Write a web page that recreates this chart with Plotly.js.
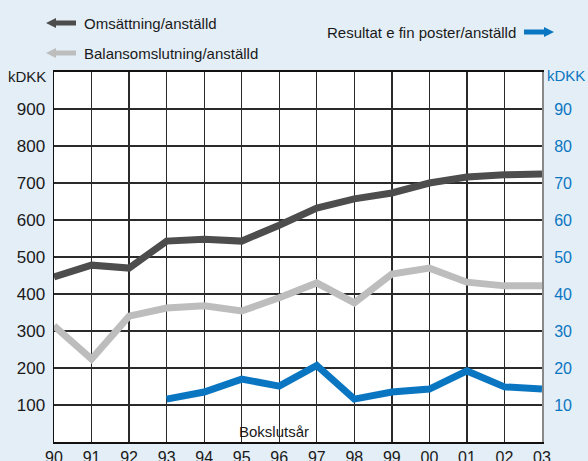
<!DOCTYPE html>
<html>
<head>
<meta charset="utf-8">
<script src="https://cdn.plot.ly/plotly-3.0.1.min.js"></script>
<style>
html,body{margin:0;padding:0;background:#e4eef7;}
#chart{width:588px;height:461px;}
</style>
</head>
<body>
<div id="chart"></div>
<script>
// ---- data ----
var years = [1990,1991,1992,1993,1994,1995,1996,1997,1998,1999,2000,2001,2002,2003];
var yearLabels = ["90","91","92","93","94","95","96","97","98","99","00","01","02","03"];
var omsattning = [446,478,470,543,548,543,586,632,657,673,700,716,722,724];
var balans = [314,224,340,362,368,354,390,430,376,454,470,432,422,422];
var resultatYears = [1993,1994,1995,1996,1997,1998,1999,2000,2001,2002,2003];
var resultat = [11.6,13.5,17.0,15.1,20.7,11.6,13.5,14.3,19.2,14.9,14.3];
var leftTicks = [100,200,300,400,500,600,700,800,900];
var rightTicks = [10,20,30,40,50,60,70,80,90];
var names = ["Omsättning/anställd","Balansomslutning/anställd","Resultat e fin poster/anställd"];

// ---- layout helpers (pixel -> paper) ----
var L=54, R=542, T=72, B=442;
function px(X){return (X-L)/(R-L);}
function py(Y){return (B-Y)/(B-T);}
function arrowPath(tipX, tailX, y){
  var dir = tailX>tipX ? 1 : -1;
  var baseX = tipX + dir*10;
  var pts = [[tipX,y],[baseX,y-5],[baseX,y-2.5],[tailX,y-2.5],[tailX,y+2.5],[baseX,y+2.5],[baseX,y+5]];
  return 'M' + pts.map(function(p){return px(p[0])+','+py(p[1]);}).join(' L') + ' Z';
}

var blue = '#0a76c1';
var font = 'Liberation Sans, Arial, sans-serif';

var traces = [
  {x: years, y: omsattning, type:'scatter', mode:'lines', name:names[0],
   line:{color:'#4d4d4d', width:7}},
  {x: years, y: balans, type:'scatter', mode:'lines', name:names[1],
   line:{color:'#bdbdbd', width:7}},
  {x: resultatYears, y: resultat, type:'scatter', mode:'lines', name:names[2], yaxis:'y2',
   line:{color:blue, width:7}}
];

var layout = {
  width:588, height:461,
  margin:{l:L, r:588-R, t:T, b:461-B},
  paper_bgcolor:'#e4eef7',
  plot_bgcolor:'#ffffff',
  showlegend:false,
  font:{family:font, color:'#1a1a1a'},
  xaxis:{
    range:[1990,2003], tickvals:years, ticktext:yearLabels,
    showgrid:true, gridcolor:'#2a2a2a', gridwidth:1.3,
    zeroline:false, showline:true, linecolor:'#111', linewidth:2, mirror:true,
    ticks:'', tickfont:{size:16, color:'#1a1a1a', family:font}, fixedrange:true
  },
  yaxis:{
    range:[0,1000], tickvals:leftTicks,
    showgrid:true, gridcolor:'#2a2a2a', gridwidth:1.3,
    zeroline:false, showline:true, linecolor:'#111', linewidth:1.5,
    ticks:'', ticklabelstandoff:4, tickfont:{size:17, color:'#1a1a1a', family:font}
  },
  yaxis2:{
    range:[0,100], tickvals:rightTicks, overlaying:'y', side:'right',
    showgrid:false, zeroline:false, showline:true, linecolor:'#888', linewidth:2,
    ticks:'', ticklabelstandoff:7, tickfont:{size:16, color:blue, family:font}
  },
  shapes:[
    {type:'path', xref:'paper', yref:'paper', path:arrowPath(46,76,23), fillcolor:'#4d4d4d', line:{width:0}},
    {type:'path', xref:'paper', yref:'paper', path:arrowPath(46,76,53), fillcolor:'#bdbdbd', line:{width:0}},
    {type:'path', xref:'paper', yref:'paper', path:arrowPath(554,524,32), fillcolor:blue, line:{width:0}}
  ],
  annotations:[
    {xref:'paper', yref:'paper', x:px(82), y:py(23), xanchor:'left', yanchor:'middle', showarrow:false,
     text:names[0], font:{size:15, color:'#1a1a1a', family:font}},
    {xref:'paper', yref:'paper', x:px(82), y:py(53), xanchor:'left', yanchor:'middle', showarrow:false,
     text:names[1], font:{size:15, color:'#1a1a1a', family:font}},
    {xref:'paper', yref:'paper', x:px(518), y:py(32), xanchor:'right', yanchor:'middle', showarrow:false,
     text:names[2], font:{size:15, color:'#1a1a1a', family:font}},
    {xref:'paper', yref:'paper', x:px(48), y:py(77), xanchor:'right', yanchor:'middle', showarrow:false,
     text:'kDKK', font:{size:15, color:'#1a1a1a', family:font}},
    {xref:'paper', yref:'paper', x:px(545), y:py(75), xanchor:'left', yanchor:'middle', showarrow:false,
     text:'kDKK', font:{size:15, color:blue, family:font}},
    {xref:'paper', yref:'paper', x:px(274), y:py(431), xanchor:'center', yanchor:'middle', showarrow:false,
     text:'Bokslutsår', font:{size:15, color:'#1a1a1a', family:font}}
  ]
};

Plotly.newPlot('chart', traces, layout, {displayModeBar:false, staticPlot:true});
</script>
</body>
</html>
